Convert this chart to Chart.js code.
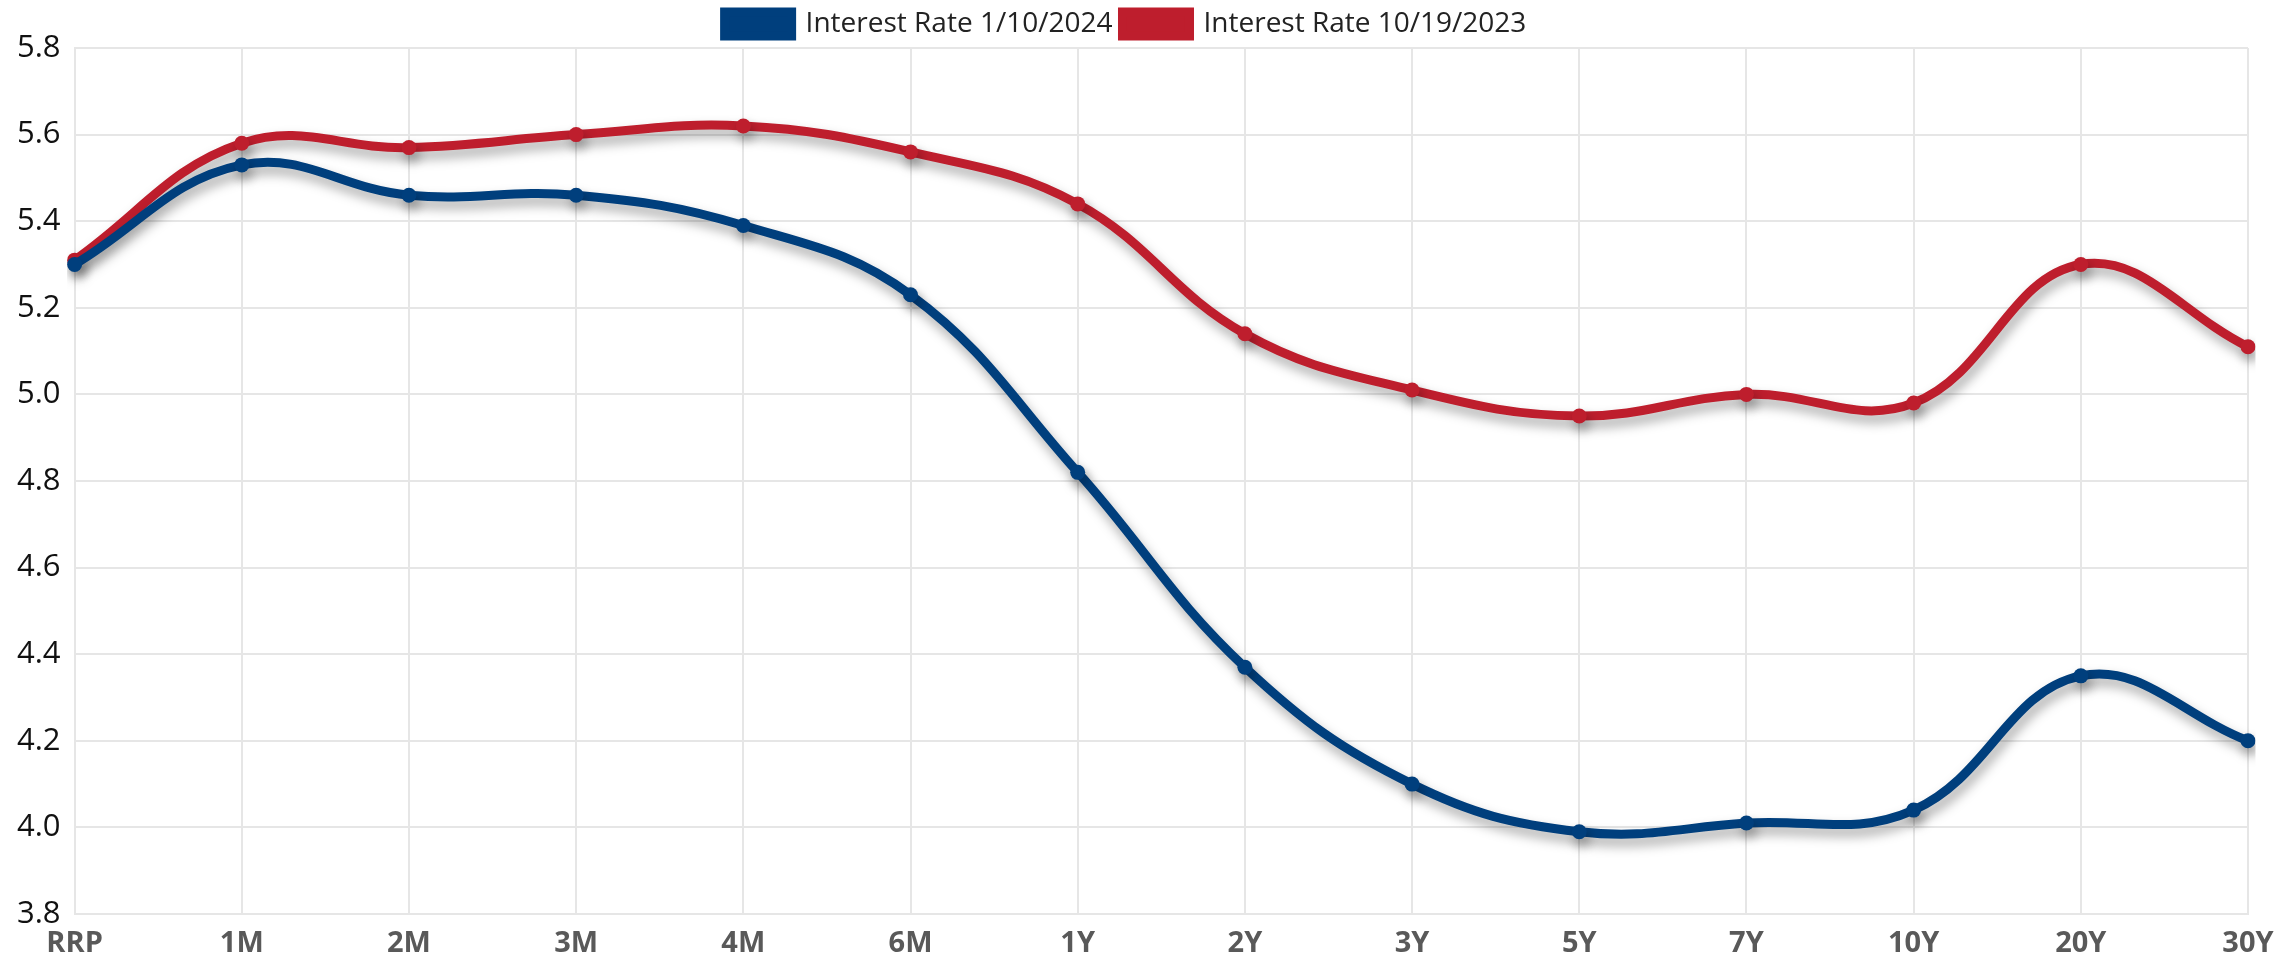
<!DOCTYPE html>
<html>
<head>
<meta charset="utf-8">
<script src="https://cdn.jsdelivr.net/npm/chart.js@4"></script>
<style>
    html, body { margin: 0; padding: 0; background: #fff; }
    #wrap { width: 2286px; height: 960px; }
</style>
</head>
<body>
<div id="wrap"><canvas id="rate-chart"></canvas></div>
<script>
// Yield curve data
const tenors = ['RRP', '1M', '2M', '3M', '4M', '6M', '1Y', '2Y', '3Y', '5Y', '7Y', '10Y', '20Y', '30Y'];
const rateJan2024 = [5.30, 5.53, 5.46, 5.46, 5.39, 5.23, 4.82, 4.37, 4.10, 3.99, 4.01, 4.04, 4.35, 4.20];
const rateOct2023 = [5.31, 5.58, 5.57, 5.60, 5.62, 5.56, 5.44, 5.14, 5.01, 4.95, 5.00, 4.98, 5.30, 5.11];

const blue = '#003f7d';
const red = '#be1e2d';

// soft drop shadow under the lines
const shadowPlugin = {
    id: 'lineShadow',
    beforeDatasetsDraw(chart) {
        const ctx = chart.ctx;
        ctx.save();
        ctx.shadowColor = 'rgba(0, 0, 0, 0.35)';
        ctx.shadowBlur = 12;
        ctx.shadowOffsetX = 3;
        ctx.shadowOffsetY = 7;
    },
    afterDatasetsDraw(chart) {
        chart.ctx.restore();
    }
};

const ctx = document.getElementById('rate-chart').getContext('2d');
new Chart(ctx, {
    type: 'line',
    data: {
        labels: tenors,
        datasets: [{
            label: 'Interest Rate 1/10/2024',
            data: rateJan2024,
            borderColor: blue,
            backgroundColor: blue,
            borderWidth: 9,
            pointRadius: 7.5,
            pointBackgroundColor: blue,
            pointBorderWidth: 0,
            tension: 0.4,
            fill: false
        }, {
            label: 'Interest Rate 10/19/2023',
            data: rateOct2023,
            borderColor: red,
            backgroundColor: red,
            borderWidth: 9,
            pointRadius: 7.5,
            pointBackgroundColor: red,
            pointBorderWidth: 0,
            tension: 0.4,
            fill: false
        }]
    },
    options: {
        responsive: true,
        maintainAspectRatio: false,
        animation: false,
        layout: {
            padding: { left: 3, right: 38, top: 0, bottom: 0 }
        },
        plugins: {
            legend: {
                position: 'top',
                labels: {
                    boxWidth: 67,
                    boxHeight: 24,
                    padding: 10,
                    color: '#222',
                    font: { family: "'Open Sans', sans-serif", size: 28 }
                }
            },
            tooltip: { enabled: false }
        },
        scales: {
            y: {
                min: 3.8,
                max: 5.8,
                ticks: {
                    stepSize: 0.2,
                    color: '#111',
                    padding: 14,
                    font: { family: "'Open Sans', sans-serif", size: 31 },
                    callback: function(value) {
                        return value.toFixed(1);
                    }
                },
                grid: { color: '#e6e6e6', lineWidth: 2, drawTicks: false },
                border: { color: '#e6e6e6', width: 2 }
            },
            x: {
                offset: false,
                afterFit: function(scale) {
                    scale.height = 46;
                },
                ticks: {
                    color: '#595959',
                    padding: 12,
                    maxRotation: 0,
                    font: { family: "'Open Sans', sans-serif", size: 29, weight: 'bold' }
                },
                grid: { color: '#e6e6e6', lineWidth: 2, drawTicks: false },
                border: { color: '#e6e6e6', width: 2 }
            }
        }
    },
    plugins: [shadowPlugin]
});
</script>
</body>
</html>
